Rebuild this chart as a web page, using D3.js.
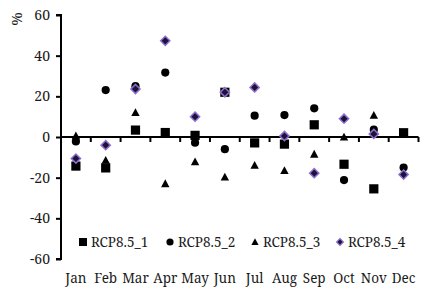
<!DOCTYPE html>
<html>
<head>
<meta charset="utf-8">
<script src="https://cdn.jsdelivr.net/npm/d3@7"></script>
<style>
  body { margin: 0; background: #fff; }
</style>
</head>
<body>
<svg id="chart" width="429" height="293"></svg>
<script>
/* ---------- Data ---------- */
const months = ["Jan","Feb","Mar","Apr","May","Jun","Jul","Aug","Sep","Oct","Nov","Dec"];
const yTicks = [-60, -40, -20, 0, 20, 40, 60];

const rcp1 = [-14.3, -15.2, 3.4, 2.2, 0.8, 22, -2.9, -3.5, 6, -13.4, -25.5, 2.1];
const rcp2 = [-2.2, 23.1, 25, 31.7, -2.8, -6, 10.5, 10.8, 14.1, -21.2, 3.6, -15];
const rcp3 = [0.5, -11.5, 12, -23, -12.3, -19.8, -14, -16.5, -8.5, -0.1, 10.6, 2];
const rcp4 = [-10.6, -4, 23.6, 47.3, 10, 22, 24.4, 0.5, -17.8, 9, 1.5, -18.5];

const seriesNames = ["RCP8.5_1","RCP8.5_2","RCP8.5_3","RCP8.5_4"];
const seriesValues = [rcp1, rcp2, rcp3, rcp4];

const FONT = "Noto Serif";
const INK = "#1a1a1a";

// marker shapes (half-size r)
function markerPath(kind, r){
  if (kind === 0) return `M${-r},${-r}H${r}V${r}H${-r}Z`;
  if (kind === 1) return d3.symbol().type(d3.symbolCircle).size(Math.PI * r * r)();
  if (kind === 2) return `M0,${-r * 1.05}L${r},${r * 0.8}H${-r}Z`;
  return `M0,${-r}L${r},0L0,${r}L${-r},0Z`;
}
const markR = [4.6, 4.1, 4.2, 4.6];

/* ---------- Layout ---------- */
const svg = d3.select("#chart");
const margin = {left: 61, right: 10, top: 15, bottom: 34};
const H = 293;

const x = d3.scaleBand().domain(months).range([margin.left, 418.5]);
const y = d3.scaleLinear().domain([-60, 60]).range([H - margin.bottom, margin.top]);

// y axis
const yAxis = svg.append("g")
  .attr("transform", `translate(${margin.left},0)`)
  .call(d3.axisLeft(y).tickValues(yTicks).tickSize(5).tickPadding(6)
    .tickFormat(d => String(d)));
yAxis.attr("font-family", FONT).attr("font-size", 14);
yAxis.select(".domain").attr("stroke", "#000").attr("stroke-width", 2)
  .attr("d", `M-5,${y(60)}H0V${y(-60)}H-5`);
yAxis.selectAll(".tick line").attr("stroke", "#000").attr("stroke-width", 2);
yAxis.selectAll(".tick text")
  .attr("font-size", 14).attr("font-family", FONT).attr("fill", INK);

// x axis at zero
const xAxis = svg.append("g").attr("transform", `translate(0,${y(0)})`);
xAxis.append("line")
  .attr("x1", margin.left).attr("x2", 418.5)
  .attr("stroke", "#000").attr("stroke-width", 2);
xAxis.selectAll("line.tk")
  .data(months)
  .join("line").attr("class", "tk")
  .attr("x1", d => x(d) + x.bandwidth())
  .attr("x2", d => x(d) + x.bandwidth())
  .attr("y1", 0).attr("y2", 5)
  .attr("stroke", "#000").attr("stroke-width", 2);

// month labels at bottom
svg.append("g").selectAll("text")
  .data(months).join("text")
  .attr("x", d => x(d) + x.bandwidth() / 2)
  .attr("y", 283)
  .attr("text-anchor", "middle")
  .attr("font-size", 13.5)
  .attr("font-family", FONT)
  .attr("fill", INK)
  .text(d => d);

// y label
svg.append("text")
  .attr("transform", `translate(22,19) rotate(-90)`)
  .attr("text-anchor", "middle")
  .attr("font-size", 15)
  .attr("font-family", FONT)
  .attr("fill", INK)
  .text("%");

/* ---------- Points ---------- */
seriesValues.forEach((vals, i) => {
  svg.append("g").selectAll("path")
    .data(vals.map((v, j) => ({m: months[j], v})))
    .join("path")
    .attr("transform", d => `translate(${x(d.m) + x.bandwidth() / 2},${y(d.v)})`)
    .attr("d", markerPath(i, markR[i]))
    .attr("fill", i === 3 ? "#1e1236" : "#000")
    .attr("stroke", i === 3 ? "#8c6fd0" : "none")
    .attr("stroke-width", i === 3 ? 1.5 : 0);
});

/* ---------- Legend ---------- */
const legendX = [83, 170, 255, 340];
const leg = svg.append("g").selectAll("g")
  .data(seriesNames).join("g")
  .attr("transform", (d, i) => `translate(${legendX[i]},242)`);
leg.append("path")
  .attr("d", (d, i) => markerPath(i, i === 3 ? 3.4 : i === 0 ? 4 : 3.6))
  .attr("fill", (d, i) => i === 3 ? "#1e1236" : "#000")
  .attr("stroke", (d, i) => i === 3 ? "#8c6fd0" : "none")
  .attr("stroke-width", 1.2);
leg.append("text")
  .attr("x", 8).attr("y", 5)
  .attr("font-size", 13.5)
  .attr("font-family", FONT)
  .attr("fill", INK)
  .text(d => d);
</script>
</body>
</html>
